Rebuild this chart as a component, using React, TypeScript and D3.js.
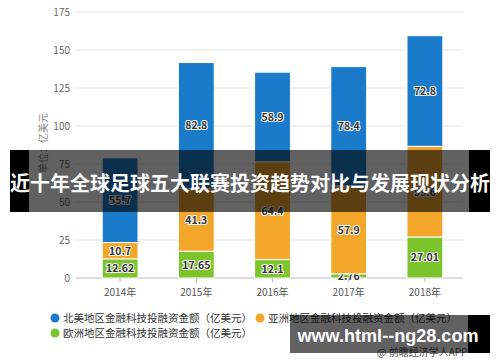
import React from "react";
import * as d3 from "d3";

const YEARS = ["2014年", "2015年", "2016年", "2017年", "2018年"];
const EUROPE = [12.62, 17.65, 12.1, 2.76, 27.01];
const ASIA = [10.7, 41.3, 64.4, 57.9, 59.6];
const NAMERICA = [55.7, 82.8, 58.9, 78.4, 72.8];
const Y_TICKS = [0, 25, 50, 75, 100, 125, 150, 175];

const SERIES = [
  { key: "eu", values: EUROPE, color: "#7cc42c", label: "欧洲地区金融科技投融资金额（亿美元）" },
  { key: "as", values: ASIA, color: "#f2a62a", label: "亚洲地区金融科技投融资金额（亿美元）" },
  { key: "na", values: NAMERICA, color: "#1a7bca", label: "北美地区金融科技投融资金额（亿美元）" },
];

const FONT = "'Noto Sans CJK SC', 'Noto Sans', sans-serif";

export default function App() {
  const x = d3.scaleBand().domain(YEARS).range([82, 463]).paddingInner(0.53).paddingOuter(0.265);
  const y = d3.scaleLinear().domain([0, 175]).range([278, 12]);

  const rows = YEARS.map((yr, i) => {
    const o: any = { year: yr };
    SERIES.forEach((s) => (o[s.key] = s.values[i]));
    return o;
  });
  const stacked = d3.stack().keys(SERIES.map((s) => s.key))(rows);

  const legend = [
    { s: SERIES[2], lx: 55, ly: 318 },
    { s: SERIES[1], lx: 260, ly: 318 },
    { s: SERIES[0], lx: 55, ly: 333 },
  ];

  return (
    <div style={{ position: "fixed", left: 0, top: 0, width: 500, height: 362, background: "#fff" }}>
      <svg width={500} height={362} style={{ display: "block", fontFamily: FONT }}>
        {/* grid */}
        {Y_TICKS.map((t) => (
          <g key={t}>
            <line x1={76} x2={463} y1={y(t)} y2={y(t)} stroke={t === 0 ? "#bbb" : "#e3e3e3"} strokeWidth={1} />
            <text x={70} y={y(t) + 3.5} textAnchor="end" fontSize={10} fill="#666">{t}</text>
          </g>
        ))}
        <text transform="translate(47,143) rotate(-90)" textAnchor="middle" fontSize={10} fill="#888">单位：亿美元</text>

        {/* bars */}
        {stacked.map((layer, li) => (
          <g key={layer.key}>
            {layer.map((d, i) => {
              const bx = x(YEARS[i]) as number;
              const top = y(d[1]);
              const h = y(d[0]) - y(d[1]);
              return (
                <g key={i}>
                  <rect x={bx} y={top} width={x.bandwidth()} height={h} fill={SERIES[li].color} stroke="#fff" strokeWidth={1} />
                  <text
                    x={bx + x.bandwidth() / 2}
                    y={top + h / 2 + 4}
                    textAnchor="middle"
                    fontSize={10.5}
                    fontWeight="bold"
                    fill="#333"
                    stroke="#fff"
                    strokeWidth={2}
                    paintOrder="stroke"
                  >
                    {SERIES[li].values[i]}
                  </text>
                </g>
              );
            })}
          </g>
        ))}

        {/* x axis */}
        {YEARS.map((yr) => {
          const cx = (x(yr) as number) + x.bandwidth() / 2;
          return (
            <g key={yr}>
              <line x1={cx} x2={cx} y1={278} y2={282} stroke="#bbb" />
              <text x={cx} y={296} textAnchor="middle" fontSize={10} fill="#555">{yr}</text>
            </g>
          );
        })}

        {/* legend */}
        {legend.map((l) => (
          <g key={l.s.key}>
            <circle cx={l.lx} cy={l.ly} r={4.5} fill={l.s.color} />
            <text x={l.lx + 8} y={l.ly + 3.8} fontSize={10.5} fill="#333">{l.s.label}</text>
          </g>
        ))}

        <text x={377} y={356} fontSize={10} fill="#555">@ 前瞻经济学人APP</text>

        {/* title band */}
        <rect x={10} y={150} width={19} height={62} fill="#000" />
        <rect x={29} y={150} width={440} height={62} fill="rgba(0,0,0,0.62)" />
        <rect x={469} y={150} width={21} height={62} fill="#000" />
        <text x={250} y={191} textAnchor="middle" fontSize={20} fontWeight="bold" fill="#fff">
          近十年全球足球五大联赛投资趋势对比与发展现状分析
        </text>

        {/* site box */}
        <rect x={290} y={315} width={178} height={38} fill="rgba(0,0,0,0.62)" />
        <rect x={468} y={315} width={22} height={38} fill="#000" />
        <text x={388} y={342} textAnchor="middle" fontSize={18} fontWeight="bold" fill="#fff"
          fontFamily="'Liberation Sans', Arial, sans-serif" textLength={181} lengthAdjust="spacingAndGlyphs">
          www.html--ng28.com
        </text>
      </svg>
    </div>
  );
}
